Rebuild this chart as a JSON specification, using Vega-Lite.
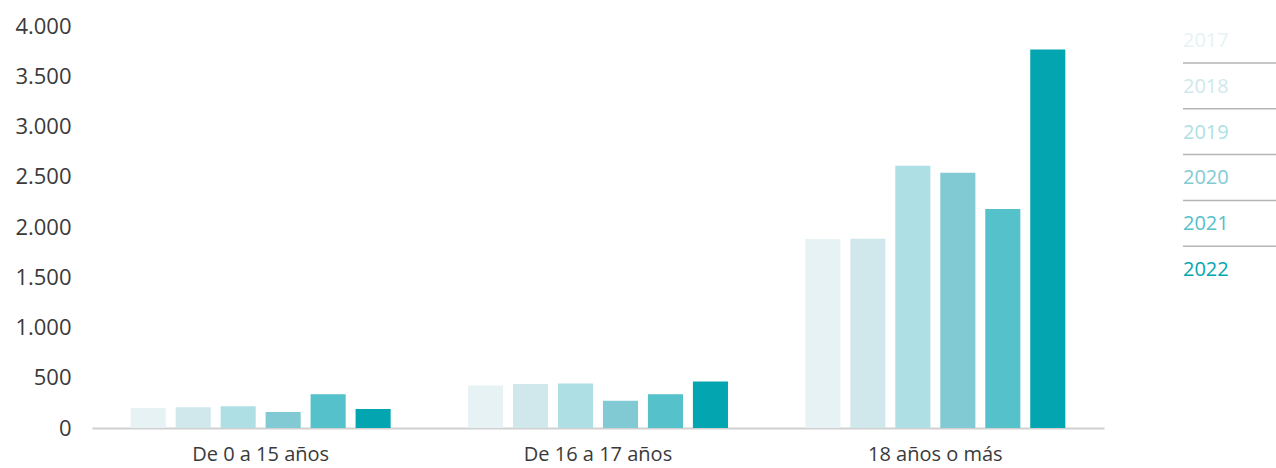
{
  "$schema": "https://vega.github.io/schema/vega-lite/v6.json",
  "padding": {"top": 15, "left": 14, "right": 0, "bottom": 10},
  "background": "white",
  "config": {
    "view": {"stroke": null},
    "font": "Open Sans",
    "concat": {"spacing": 78}
  },
  "datasets": {
    "bars": [
      {"grupo": "De 0 a 15 años", "anio": "2017", "valor": 200},
      {"grupo": "De 0 a 15 años", "anio": "2018", "valor": 206},
      {"grupo": "De 0 a 15 años", "anio": "2019", "valor": 216},
      {"grupo": "De 0 a 15 años", "anio": "2020", "valor": 159},
      {"grupo": "De 0 a 15 años", "anio": "2021", "valor": 335},
      {"grupo": "De 0 a 15 años", "anio": "2022", "valor": 189},
      {"grupo": "De 16 a 17 años", "anio": "2017", "valor": 423},
      {"grupo": "De 16 a 17 años", "anio": "2018", "valor": 438},
      {"grupo": "De 16 a 17 años", "anio": "2019", "valor": 443},
      {"grupo": "De 16 a 17 años", "anio": "2020", "valor": 271},
      {"grupo": "De 16 a 17 años", "anio": "2021", "valor": 336},
      {"grupo": "De 16 a 17 años", "anio": "2022", "valor": 463},
      {"grupo": "18 años o más", "anio": "2017", "valor": 1881},
      {"grupo": "18 años o más", "anio": "2018", "valor": 1884},
      {"grupo": "18 años o más", "anio": "2019", "valor": 2610},
      {"grupo": "18 años o más", "anio": "2020", "valor": 2541},
      {"grupo": "18 años o más", "anio": "2021", "valor": 2179},
      {"grupo": "18 años o más", "anio": "2022", "valor": 3765}
    ],
    "years": [
      {"anio": "2017"}, {"anio": "2018"}, {"anio": "2019"},
      {"anio": "2020"}, {"anio": "2021"}, {"anio": "2022"}
    ]
  },
  "hconcat": [
    {
      "width": 1012,
      "height": 402,
      "data": {"name": "bars"},
      "mark": {"type": "bar"},
      "encoding": {
        "x": {
          "field": "grupo",
          "type": "nominal",
          "sort": ["De 0 a 15 años", "De 16 a 17 años", "18 años o más"],
          "scale": {"paddingInner": 0.2, "paddingOuter": 0.1},
          "axis": {
            "title": null,
            "labelAngle": 0,
            "labelFontSize": 20,
            "labelColor": "#3a3a3a",
            "labelPadding": 16,
            "ticks": false,
            "domainColor": "#d0d0d0",
            "domainWidth": 2
          }
        },
        "xOffset": {
          "field": "anio",
          "type": "nominal",
          "scale": {"paddingInner": 0.22, "paddingOuter": 0.11}
        },
        "y": {
          "field": "valor",
          "type": "quantitative",
          "scale": {"domain": [0, 4000], "nice": false},
          "axis": {
            "title": null,
            "values": [0, 500, 1000, 1500, 2000, 2500, 3000, 3500, 4000],
            "labelExpr": "replace(format(datum.value, ','), ',', '.')",
            "labelFontSize": 22,
            "labelColor": "#3a3a3a",
            "labelPadding": 21,
            "ticks": false,
            "domain": false,
            "grid": false
          }
        },
        "color": {
          "field": "anio",
          "type": "nominal",
          "scale": {
            "domain": ["2017", "2018", "2019", "2020", "2021", "2022"],
            "range": ["#e6f2f4", "#d0e8ec", "#addfe5", "#82cad3", "#55c1ca", "#03a6b0"]
          },
          "legend": null
        }
      }
    },
    {
      "width": 93,
      "height": 402,
      "data": {"name": "years"},
      "layer": [
        {
          "mark": {"type": "text", "align": "left", "baseline": "middle", "fontSize": 20},
          "encoding": {
            "x": {"value": 0},
            "y": {
              "field": "anio",
              "type": "nominal",
              "scale": {"range": [-8, 267], "paddingInner": 0, "paddingOuter": 0},
              "axis": null
            },
            "text": {"field": "anio"},
            "color": {
              "field": "anio",
              "type": "nominal",
              "scale": {
                "domain": ["2017", "2018", "2019", "2020", "2021", "2022"],
                "range": ["#e6f2f4", "#d0e8ec", "#addfe5", "#82cad3", "#55c1ca", "#03a6b0"]
              },
              "legend": null
            }
          }
        },
        {
          "transform": [{"filter": "datum.anio != '2022'"}],
          "mark": {"type": "rule", "color": "#b5b5b5", "strokeWidth": 1.5, "yOffset": 22},
          "encoding": {
            "y": {"field": "anio", "type": "nominal", "axis": null}
          }
        }
      ]
    }
  ]
}
